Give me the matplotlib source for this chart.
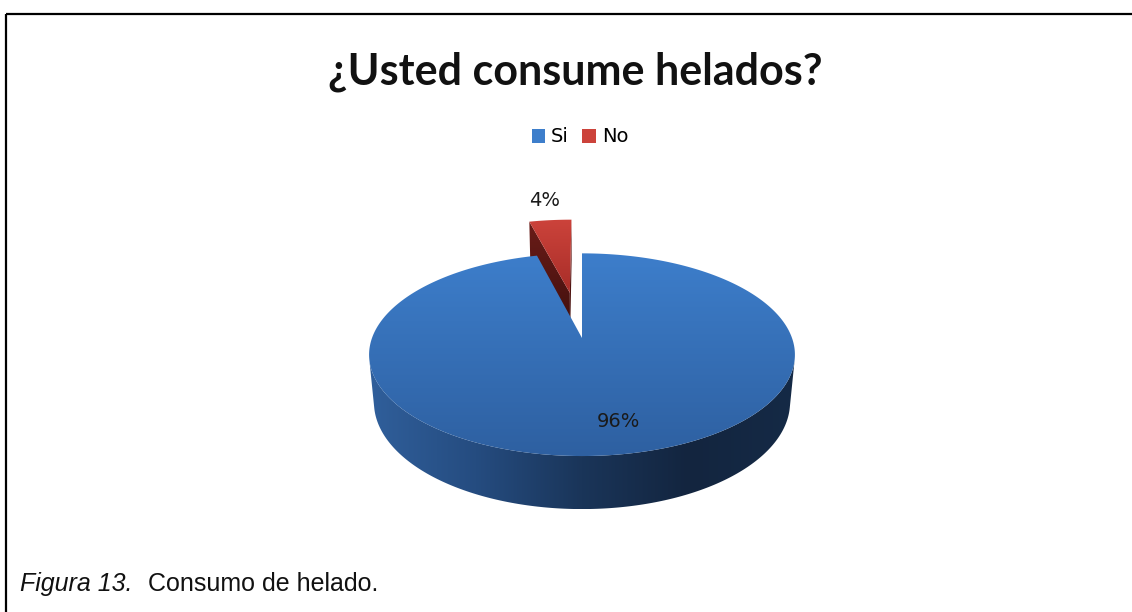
import numpy as np
import matplotlib.pyplot as plt
from matplotlib.patches import Polygon, Patch
from matplotlib.colors import LinearSegmentedColormap

# survey answers
categories = ['Si', 'No']
shares = [96, 4]
explode = [0.0, 0.5]

title = '¿Usted consume helados?'
caption_italic = 'Figura 13.'
caption_text = 'Consumo de helado.'

# top face (light -> dark), side wall stops, radial face stops
top_cols = [['#3d7ecb', '#2e60a1'], ['#cc433b', '#a82d28']]
wall_cols = [['#305f9b', '#254c80', '#1a3559', '#13253f', '#152a46'],
             ['#7a1f1b', '#4a1210']]
face_cols = [['#2a5288', '#1b365c'], ['#6a1c18', '#3e0f0d']]

# view set-up for the tilted disc (pixel units)
cx, cy, S = 582, 338, 210
tilt = np.radians(28)
D = 5.36
h = 0.26


def proj(X, Y, Z):
    X, Y, Z = np.broadcast_arrays(np.asarray(X, float), np.asarray(Y, float), np.asarray(Z, float))
    depth = Y * np.cos(tilt) - Z * np.sin(tilt) + D
    sx = X * D / depth
    sy = (Y * np.sin(tilt) + Z * np.cos(tilt)) * D / depth
    return np.column_stack([cx + S * sx, cy - S * sy])


def grad_fill(ax, pts, colors, horizontal=False, z=1):
    poly = Polygon(pts, closed=True, facecolor='none', edgecolor='none', zorder=z)
    ax.add_patch(poly)
    x0, y0 = pts.min(axis=0)
    x1, y1 = pts.max(axis=0)
    cmap = LinearSegmentedColormap.from_list('g', colors)
    g = np.linspace(0, 1, 256)
    img = g[None, :] if horizontal else g[:, None]
    im = ax.imshow(img, cmap=cmap, extent=(x0, x1, y1, y0), aspect='auto',
                   interpolation='bilinear', zorder=z)
    im.set_clip_path(poly)


fig = plt.figure(figsize=(11.32, 6.12), dpi=100)
ax = fig.add_axes([0, 0, 1, 1])

# slice angles, clockwise from 12 o'clock
bounds = 90 - 3.6 * np.concatenate([[0], np.cumsum(shares)])
slices = []
for i in range(len(shares)):
    t1, t2 = bounds[i], bounds[i + 1]
    mid = np.radians((t1 + t2) / 2)
    ox, oy = explode[i] * np.cos(mid), explode[i] * np.sin(mid)
    slices.append((t1, t2, mid, ox, oy))

# silhouette of the rim as seen from the camera
sil = np.degrees(np.arcsin(1 / (D * np.cos(tilt))))

# far (exploded) slice first, then the big one on top of it
z = 1
for i in [1, 0]:
    t1, t2, mid, ox, oy = slices[i]
    # cut faces of a pulled-out slice
    if explode[i] > 0:
        for edge in (t2, t1):
            a = np.radians(edge)
            X = np.array([ox, ox + np.cos(a)])
            Y = np.array([oy, oy + np.sin(a)])
            face = np.vstack([proj(X, Y, 0), proj(X[::-1], Y[::-1], -h)])
            grad_fill(ax, face, face_cols[i], horizontal=False, z=z)
            z += 1
    # outer wall, front part only
    lo, hi = min(t1, t2), max(t1, t2)
    for base in (-360, 0):
        w0, w1 = max(lo, 180 + sil + base), min(hi, 360 - sil + base)
        if w1 > w0:
            t = np.radians(np.linspace(w0, w1, 200))
            X, Y = ox + np.cos(t), oy + np.sin(t)
            wall = np.vstack([proj(X, Y, 0), proj(X[::-1], Y[::-1], -h)])
            grad_fill(ax, wall, wall_cols[i], horizontal=True, z=z)
            z += 1
    # top face
    t = np.radians(np.linspace(t1, t2, 400))
    X = np.concatenate([[ox], ox + np.cos(t)])
    Y = np.concatenate([[oy], oy + np.sin(t)])
    grad_fill(ax, proj(X, Y, 0), top_cols[i], horizontal=False, z=z)
    z += 1

# percentage labels
lab_r = [0.76, 1.33]
lab_shift = np.radians([4.4, 0.0])
for i in range(len(shares)):
    t1, t2, mid, ox, oy = slices[i]
    m = mid + lab_shift[i]
    p = proj(ox + lab_r[i] * np.cos(m), oy + lab_r[i] * np.sin(m), 0)[0]
    ax.text(p[0], p[1], f'{shares[i]}%', ha='center', va='center',
            fontsize=14, color='#1a1a1a', family='DejaVu Sans', zorder=50)

ax.text(575, 72, title, ha='center', va='center', fontsize=31,
        fontweight='bold', family='Lato', color='#111111')

handles = [Patch(facecolor=top_cols[i][0], edgecolor='none', label=categories[i])
           for i in range(len(categories))]
ax.legend(handles=handles, loc='center', bbox_to_anchor=(580, 137),
          bbox_transform=ax.transData, ncol=2, frameon=False,
          handlelength=0.7, handleheight=0.7, handletextpad=0.3,
          columnspacing=0.7, prop={'family': 'DejaVu Sans', 'size': 14})

# frame
ax.plot([6, 6], [612, 14], color='black', lw=1.6, solid_capstyle='butt')
ax.plot([6, 1132], [14, 14], color='black', lw=1.6, solid_capstyle='butt')

ax.set_xlim(0, 1132)
ax.set_ylim(612, 0)
ax.set_aspect('auto')
ax.axis('off')

# caption below the chart
cap = ax.text(20, 591, caption_italic, style='italic', family='Liberation Sans',
              fontsize=18, va='baseline', color='#111111')
fig.canvas.draw()
x_end = ax.transData.inverted().transform(cap.get_window_extent())[1, 0]
ax.text(x_end + 16, 591, caption_text, family='Liberation Sans',
        fontsize=18, va='baseline', color='#111111')

fig.savefig('out.png', dpi=100, facecolor='white')
